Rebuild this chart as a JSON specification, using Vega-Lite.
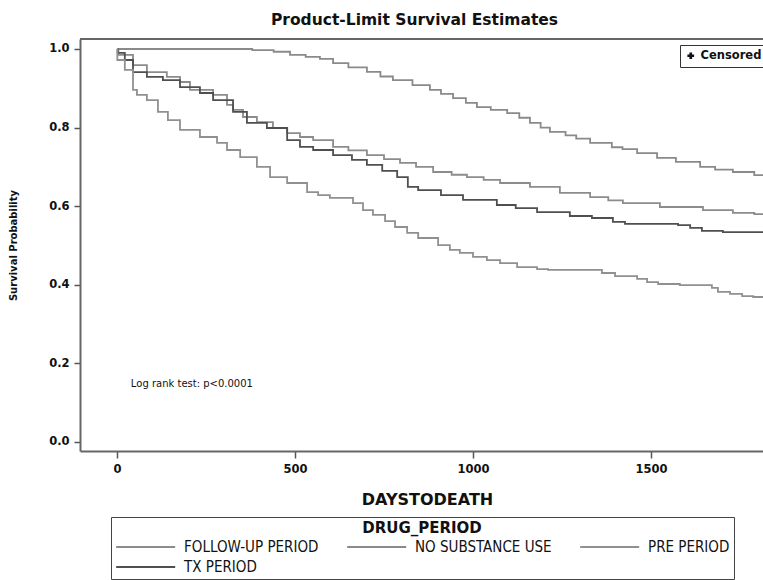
{
  "$schema": "https://vega.github.io/schema/vega-lite/v6.json",
  "width": 683,
  "height": 412,
  "autosize": {"type": "none"},
  "padding": {"left": 80, "top": 39, "right": 0, "bottom": 129},
  "background": "white",
  "title": {
    "text": "Product-Limit Survival Estimates",
    "font": "DejaVu Sans",
    "fontSize": 15.5,
    "fontWeight": "bold",
    "color": "#111",
    "anchor": "middle",
    "dx": -7,
    "offset": 10
  },
  "config": {
    "view": {"stroke": null},
    "axis": {
      "domainColor": "#666",
      "domainWidth": 2,
      "tickColor": "#555",
      "tickWidth": 1.5,
      "tickSize": 6,
      "grid": false,
      "labelFont": "DejaVu Sans",
      "labelFontWeight": "bold",
      "labelFontSize": 11.5,
      "labelColor": "#111",
      "titleFont": "DejaVu Sans",
      "titleFontWeight": "bold",
      "titleColor": "#111"
    }
  },
  "datasets": {
    "curves": [
      {"g": "NO SUBSTANCE USE", "d": 0, "S": 1.0},
      {"g": "NO SUBSTANCE USE", "d": 380, "S": 0.997},
      {"g": "NO SUBSTANCE USE", "d": 440, "S": 0.993},
      {"g": "NO SUBSTANCE USE", "d": 486, "S": 0.985},
      {"g": "NO SUBSTANCE USE", "d": 530, "S": 0.98},
      {"g": "NO SUBSTANCE USE", "d": 570, "S": 0.975},
      {"g": "NO SUBSTANCE USE", "d": 607, "S": 0.964},
      {"g": "NO SUBSTANCE USE", "d": 650, "S": 0.953},
      {"g": "NO SUBSTANCE USE", "d": 702, "S": 0.942},
      {"g": "NO SUBSTANCE USE", "d": 740, "S": 0.93},
      {"g": "NO SUBSTANCE USE", "d": 775, "S": 0.921},
      {"g": "NO SUBSTANCE USE", "d": 830, "S": 0.908},
      {"g": "NO SUBSTANCE USE", "d": 879, "S": 0.896},
      {"g": "NO SUBSTANCE USE", "d": 910, "S": 0.886},
      {"g": "NO SUBSTANCE USE", "d": 944, "S": 0.875},
      {"g": "NO SUBSTANCE USE", "d": 980, "S": 0.863},
      {"g": "NO SUBSTANCE USE", "d": 1011, "S": 0.852},
      {"g": "NO SUBSTANCE USE", "d": 1050, "S": 0.845},
      {"g": "NO SUBSTANCE USE", "d": 1096, "S": 0.837},
      {"g": "NO SUBSTANCE USE", "d": 1130, "S": 0.825},
      {"g": "NO SUBSTANCE USE", "d": 1160, "S": 0.812},
      {"g": "NO SUBSTANCE USE", "d": 1190, "S": 0.8},
      {"g": "NO SUBSTANCE USE", "d": 1216, "S": 0.789},
      {"g": "NO SUBSTANCE USE", "d": 1260, "S": 0.78},
      {"g": "NO SUBSTANCE USE", "d": 1290, "S": 0.772},
      {"g": "NO SUBSTANCE USE", "d": 1329, "S": 0.761},
      {"g": "NO SUBSTANCE USE", "d": 1390, "S": 0.75},
      {"g": "NO SUBSTANCE USE", "d": 1420, "S": 0.745},
      {"g": "NO SUBSTANCE USE", "d": 1461, "S": 0.735},
      {"g": "NO SUBSTANCE USE", "d": 1517, "S": 0.723},
      {"g": "NO SUBSTANCE USE", "d": 1570, "S": 0.713},
      {"g": "NO SUBSTANCE USE", "d": 1638, "S": 0.7},
      {"g": "NO SUBSTANCE USE", "d": 1680, "S": 0.693},
      {"g": "NO SUBSTANCE USE", "d": 1730, "S": 0.687},
      {"g": "NO SUBSTANCE USE", "d": 1790, "S": 0.679},
      {"g": "NO SUBSTANCE USE", "d": 1860, "S": 0.679},

      {"g": "FOLLOW-UP PERIOD", "d": 0, "S": 1.0},
      {"g": "FOLLOW-UP PERIOD", "d": 4, "S": 0.985},
      {"g": "FOLLOW-UP PERIOD", "d": 45, "S": 0.959},
      {"g": "FOLLOW-UP PERIOD", "d": 84, "S": 0.941},
      {"g": "FOLLOW-UP PERIOD", "d": 140, "S": 0.929},
      {"g": "FOLLOW-UP PERIOD", "d": 177, "S": 0.916},
      {"g": "FOLLOW-UP PERIOD", "d": 205, "S": 0.896},
      {"g": "FOLLOW-UP PERIOD", "d": 270, "S": 0.883},
      {"g": "FOLLOW-UP PERIOD", "d": 309, "S": 0.858},
      {"g": "FOLLOW-UP PERIOD", "d": 326, "S": 0.845},
      {"g": "FOLLOW-UP PERIOD", "d": 354, "S": 0.827},
      {"g": "FOLLOW-UP PERIOD", "d": 393, "S": 0.814},
      {"g": "FOLLOW-UP PERIOD", "d": 438, "S": 0.799},
      {"g": "FOLLOW-UP PERIOD", "d": 478, "S": 0.786},
      {"g": "FOLLOW-UP PERIOD", "d": 514, "S": 0.776},
      {"g": "FOLLOW-UP PERIOD", "d": 551, "S": 0.768},
      {"g": "FOLLOW-UP PERIOD", "d": 607, "S": 0.751},
      {"g": "FOLLOW-UP PERIOD", "d": 650, "S": 0.742},
      {"g": "FOLLOW-UP PERIOD", "d": 702, "S": 0.73},
      {"g": "FOLLOW-UP PERIOD", "d": 750, "S": 0.72},
      {"g": "FOLLOW-UP PERIOD", "d": 795, "S": 0.71},
      {"g": "FOLLOW-UP PERIOD", "d": 840, "S": 0.7},
      {"g": "FOLLOW-UP PERIOD", "d": 888, "S": 0.687},
      {"g": "FOLLOW-UP PERIOD", "d": 940, "S": 0.68},
      {"g": "FOLLOW-UP PERIOD", "d": 983, "S": 0.674},
      {"g": "FOLLOW-UP PERIOD", "d": 1030, "S": 0.667},
      {"g": "FOLLOW-UP PERIOD", "d": 1076, "S": 0.659},
      {"g": "FOLLOW-UP PERIOD", "d": 1160, "S": 0.649},
      {"g": "FOLLOW-UP PERIOD", "d": 1244, "S": 0.634},
      {"g": "FOLLOW-UP PERIOD", "d": 1329, "S": 0.623},
      {"g": "FOLLOW-UP PERIOD", "d": 1380, "S": 0.615},
      {"g": "FOLLOW-UP PERIOD", "d": 1421, "S": 0.608},
      {"g": "FOLLOW-UP PERIOD", "d": 1525, "S": 0.598},
      {"g": "FOLLOW-UP PERIOD", "d": 1646, "S": 0.59},
      {"g": "FOLLOW-UP PERIOD", "d": 1730, "S": 0.583},
      {"g": "FOLLOW-UP PERIOD", "d": 1790, "S": 0.58},
      {"g": "FOLLOW-UP PERIOD", "d": 1860, "S": 0.58},

      {"g": "TX PERIOD", "d": 0, "S": 1.0},
      {"g": "TX PERIOD", "d": 2, "S": 0.99},
      {"g": "TX PERIOD", "d": 22, "S": 0.972},
      {"g": "TX PERIOD", "d": 45, "S": 0.941},
      {"g": "TX PERIOD", "d": 84, "S": 0.929},
      {"g": "TX PERIOD", "d": 129, "S": 0.921},
      {"g": "TX PERIOD", "d": 177, "S": 0.903},
      {"g": "TX PERIOD", "d": 233, "S": 0.888},
      {"g": "TX PERIOD", "d": 270, "S": 0.87},
      {"g": "TX PERIOD", "d": 326, "S": 0.84},
      {"g": "TX PERIOD", "d": 365, "S": 0.812},
      {"g": "TX PERIOD", "d": 421, "S": 0.799},
      {"g": "TX PERIOD", "d": 478, "S": 0.768},
      {"g": "TX PERIOD", "d": 514, "S": 0.751},
      {"g": "TX PERIOD", "d": 551, "S": 0.743},
      {"g": "TX PERIOD", "d": 607, "S": 0.73},
      {"g": "TX PERIOD", "d": 660, "S": 0.718},
      {"g": "TX PERIOD", "d": 702, "S": 0.705},
      {"g": "TX PERIOD", "d": 745, "S": 0.69},
      {"g": "TX PERIOD", "d": 787, "S": 0.674},
      {"g": "TX PERIOD", "d": 817, "S": 0.649},
      {"g": "TX PERIOD", "d": 846, "S": 0.641},
      {"g": "TX PERIOD", "d": 910, "S": 0.628},
      {"g": "TX PERIOD", "d": 972, "S": 0.616},
      {"g": "TX PERIOD", "d": 1067, "S": 0.603},
      {"g": "TX PERIOD", "d": 1120, "S": 0.595},
      {"g": "TX PERIOD", "d": 1180, "S": 0.585},
      {"g": "TX PERIOD", "d": 1272, "S": 0.575},
      {"g": "TX PERIOD", "d": 1334, "S": 0.57},
      {"g": "TX PERIOD", "d": 1393, "S": 0.56},
      {"g": "TX PERIOD", "d": 1427, "S": 0.555},
      {"g": "TX PERIOD", "d": 1576, "S": 0.552},
      {"g": "TX PERIOD", "d": 1610, "S": 0.545},
      {"g": "TX PERIOD", "d": 1643, "S": 0.537},
      {"g": "TX PERIOD", "d": 1702, "S": 0.534},
      {"g": "TX PERIOD", "d": 1860, "S": 0.534},

      {"g": "PRE PERIOD", "d": 0, "S": 1.0},
      {"g": "PRE PERIOD", "d": 1, "S": 0.972},
      {"g": "PRE PERIOD", "d": 22, "S": 0.947},
      {"g": "PRE PERIOD", "d": 45, "S": 0.896},
      {"g": "PRE PERIOD", "d": 56, "S": 0.883},
      {"g": "PRE PERIOD", "d": 84, "S": 0.87},
      {"g": "PRE PERIOD", "d": 115, "S": 0.84},
      {"g": "PRE PERIOD", "d": 143, "S": 0.819},
      {"g": "PRE PERIOD", "d": 177, "S": 0.794},
      {"g": "PRE PERIOD", "d": 233, "S": 0.776},
      {"g": "PRE PERIOD", "d": 281, "S": 0.761},
      {"g": "PRE PERIOD", "d": 309, "S": 0.743},
      {"g": "PRE PERIOD", "d": 346, "S": 0.725},
      {"g": "PRE PERIOD", "d": 393, "S": 0.7},
      {"g": "PRE PERIOD", "d": 430, "S": 0.674},
      {"g": "PRE PERIOD", "d": 478, "S": 0.659},
      {"g": "PRE PERIOD", "d": 534, "S": 0.636},
      {"g": "PRE PERIOD", "d": 565, "S": 0.628},
      {"g": "PRE PERIOD", "d": 598, "S": 0.621},
      {"g": "PRE PERIOD", "d": 663, "S": 0.608},
      {"g": "PRE PERIOD", "d": 691, "S": 0.59},
      {"g": "PRE PERIOD", "d": 719, "S": 0.578},
      {"g": "PRE PERIOD", "d": 753, "S": 0.562},
      {"g": "PRE PERIOD", "d": 781, "S": 0.547},
      {"g": "PRE PERIOD", "d": 815, "S": 0.532},
      {"g": "PRE PERIOD", "d": 846, "S": 0.519},
      {"g": "PRE PERIOD", "d": 902, "S": 0.501},
      {"g": "PRE PERIOD", "d": 935, "S": 0.489},
      {"g": "PRE PERIOD", "d": 963, "S": 0.481},
      {"g": "PRE PERIOD", "d": 1000, "S": 0.471},
      {"g": "PRE PERIOD", "d": 1039, "S": 0.463},
      {"g": "PRE PERIOD", "d": 1076, "S": 0.455},
      {"g": "PRE PERIOD", "d": 1124, "S": 0.445},
      {"g": "PRE PERIOD", "d": 1180, "S": 0.44},
      {"g": "PRE PERIOD", "d": 1211, "S": 0.438},
      {"g": "PRE PERIOD", "d": 1362, "S": 0.43},
      {"g": "PRE PERIOD", "d": 1399, "S": 0.422},
      {"g": "PRE PERIOD", "d": 1461, "S": 0.415},
      {"g": "PRE PERIOD", "d": 1489, "S": 0.407},
      {"g": "PRE PERIOD", "d": 1520, "S": 0.402},
      {"g": "PRE PERIOD", "d": 1581, "S": 0.399},
      {"g": "PRE PERIOD", "d": 1671, "S": 0.392},
      {"g": "PRE PERIOD", "d": 1688, "S": 0.382},
      {"g": "PRE PERIOD", "d": 1722, "S": 0.377},
      {"g": "PRE PERIOD", "d": 1756, "S": 0.371},
      {"g": "PRE PERIOD", "d": 1787, "S": 0.369},
      {"g": "PRE PERIOD", "d": 1860, "S": 0.369}
    ]
  },
  "layer": [
    {
      "data": {"values": [{"top": 1.0254}]},
      "mark": {"type": "rule", "color": "#666", "strokeWidth": 2},
      "encoding": {
        "y": {"field": "top", "type": "quantitative", "scale": {"domain": [-0.0229, 1.0254], "nice": false, "zero": false}}
      }
    },
    {
      "data": {"name": "curves"},
      "mark": {"type": "line", "interpolate": "step-after", "clip": true, "strokeWidth": 1.8},
      "encoding": {
        "x": {
          "field": "d", "type": "quantitative",
          "scale": {"domain": [-103.9, 1814.6], "nice": false, "zero": false},
          "axis": {"values": [0, 500, 1000, 1500], "format": "d", "title": "DAYSTODEATH", "titleFontSize": 16, "titlePadding": 17, "titleX": 347, "labelPadding": 5, "tickSize": 7}
        },
        "y": {
          "field": "S", "type": "quantitative",
          "scale": {"domain": [-0.0229, 1.0254], "nice": false, "zero": false},
          "axis": {"values": [0, 0.2, 0.4, 0.6, 0.8, 1.0], "format": ".1f", "title": "Survival Probability", "titleFontSize": 10, "titlePadding": 30, "labelPadding": 5}
        },
        "color": {
          "field": "g", "type": "nominal",
          "scale": {"domain": ["FOLLOW-UP PERIOD", "NO SUBSTANCE USE", "PRE PERIOD", "TX PERIOD"], "range": ["#8c8c8c", "#8a8a8a", "#909090", "#4f4f4f"]},
          "legend": {
            "title": "DRUG_PERIOD",
            "orient": "none",
            "legendX": 31,
            "legendY": 478,
            "direction": "horizontal",
            "columns": 3,
            "columnPadding": 24,
            "rowPadding": 1,
            "padding": 4,
            "strokeColor": "#444",
            "titleFont": "DejaVu Sans",
            "titleFontWeight": "bold",
            "titleFontSize": 15,
            "titleColor": "#111",
            "titleAnchor": "middle",
            "titleAlign": "center",
            "titlePadding": 0,
            "labelFont": "Liberation Sans Narrow, DejaVu Sans Condensed, Liberation Sans",
            "labelFontSize": 15,
            "labelColor": "#111",
            "labelLimit": 300,
            "labelOffset": 47,
            "symbolType": "M-1,0H5",
            "symbolSize": 387,
            "symbolStrokeWidth": 1.8
          }
        }
      }
    },
    {
      "data": {"values": [{"d": 900, "S": 0.5, "c": "Censored"}]},
      "mark": {"type": "point", "filled": true, "opacity": 0, "color": "#111"},
      "encoding": {
        "x": {"field": "d", "type": "quantitative"},
        "y": {"field": "S", "type": "quantitative"},
        "shape": {
          "field": "c", "type": "nominal",
          "scale": {"range": ["cross"]},
          "legend": {
            "title": null,
            "orient": "none",
            "legendX": 600,
            "legendY": 6,
            "padding": 5,
            "strokeColor": "#333",
            "labelFont": "DejaVu Sans",
            "labelFontWeight": "bold",
            "labelFontSize": 11.5,
            "labelColor": "#111",
            "labelOffset": 4,
            "symbolSize": 45,
            "symbolOpacity": 1,
            "symbolFillColor": "#111",
            "symbolStrokeColor": "#111",
            "symbolStrokeWidth": 0
          }
        }
      }
    },
    {
      "data": {"values": [{"d": 39, "S": 0.148, "t": "Log rank test: p<0.0001"}]},
      "mark": {"type": "text", "align": "left", "baseline": "middle", "font": "DejaVu Sans", "fontSize": 10, "color": "#111"},
      "encoding": {
        "x": {"field": "d", "type": "quantitative"},
        "y": {"field": "S", "type": "quantitative"},
        "text": {"field": "t"}
      }
    }
  ]
}
